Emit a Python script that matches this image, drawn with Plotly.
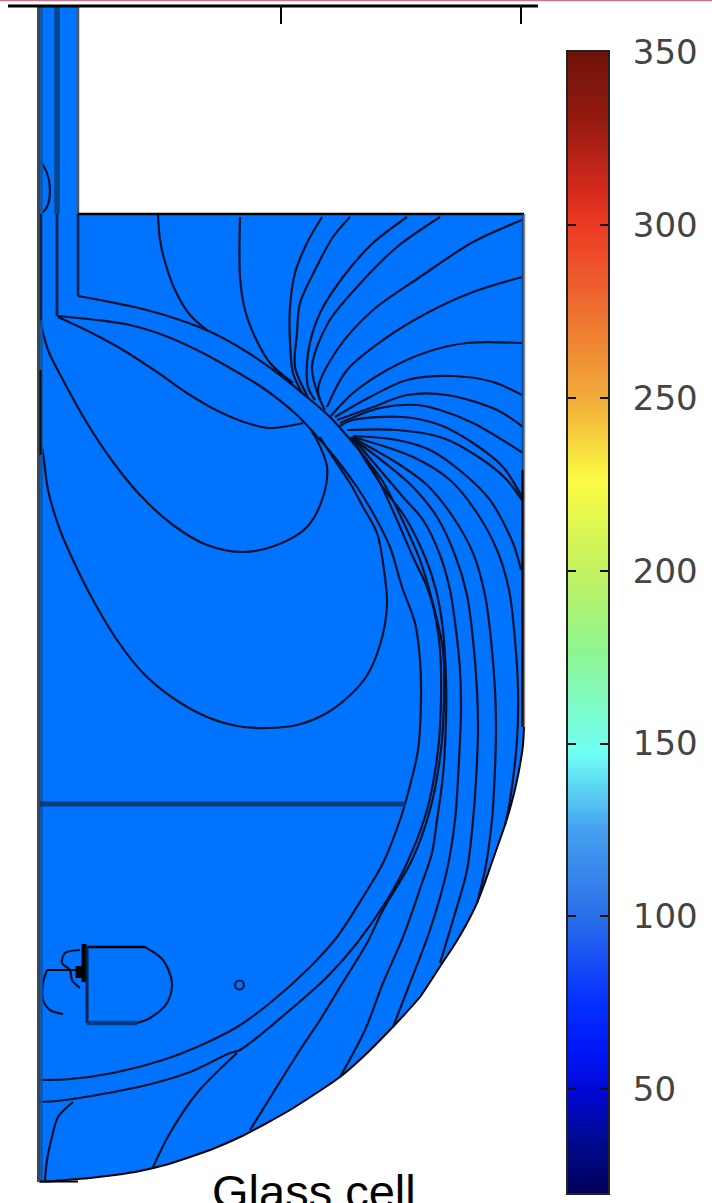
import plotly.graph_objects as go

# colour bar
BAR_TICKS = [50, 100, 150, 200, 250, 300, 350]
BAR_VALUES = list(range(20, 351))
BAR_STOPS = [
    (20, "#00005a"), (35, "#000a90"), (50, "#0008d8"), (60, "#0015f5"), (75, "#0530ff"), (100, "#2a6fe8"),
    (125, "#45a0f0"), (147, "#70fff5"), (177, "#8ff590"), (200, "#c3f25f"), (226, "#fbfb44"), (250, "#f2ab3a"),
    (275, "#ee7030"), (292, "#ec4a28"), (300, "#ec3a22"), (310, "#d42a1c"), (330, "#961a10"), (350, "#6e1208"),
]

# domain outline
DOMAIN = [(39, 7), (78, 7), (78, 214), (524, 214), (524, 727), (523, 745), (520, 765), (516, 785), (511, 805),
          (505, 825), (498, 845), (491, 865), (484, 885), (477, 903), (466, 925), (453, 947), (441, 965), (430, 982),
          (420, 997), (404, 1015), (387, 1033), (364, 1056), (340, 1077), (315, 1094), (290, 1110), (265, 1124),
          (240, 1137), (215, 1148), (190, 1157), (165, 1165), (140, 1171), (115, 1175), (90, 1178), (65, 1180),
          (50, 1181.5), (39, 1181.5)]

# contours
GLASS_OUTER = [(78, 296), (100, 300), (143, 309), (180, 320), (213, 333), (247, 352), (280, 375), (307, 397),
               (330, 417), (353, 443), (367, 460), (380, 483), (397, 520), (413, 557), (427, 587), (434, 610),
               (440, 650), (441, 700), (438, 750), (427, 810), (407, 863), (387, 900), (357, 943), (327, 977),
               (290, 1010), (240, 1050), (230, 1053), (190, 1072), (147, 1085), (97, 1095), (57, 1101), (40, 1102)]
GLASS_INNER = [(57, 316), (97, 320), (130, 325), (163, 335), (197, 350), (230, 368), (263, 388), (297, 415),
               (313, 432), (337, 460), (357, 487), (373, 513), (390, 547), (402, 587), (415, 623), (420, 660),
               (421, 700), (418, 750), (408, 793), (400, 820), (383, 863), (363, 897), (337, 937), (310, 967),
               (270, 1003), (237, 1027), (197, 1047), (163, 1060), (113, 1073), (70, 1079), (40, 1080)]
LOBE_SMALL = [(58, 317), (90, 332), (123, 350), (157, 372), (190, 395), (220, 412), (247, 423), (270, 428), (303, 423)]
LOBE_MID = [(40, 320), (48, 350), (63, 380), (87, 423), (113, 462), (140, 495), (173, 525), (207, 545), (243, 552),
            (277, 545), (307, 527), (323, 497), (327, 467), (317, 440), (312, 432)]
LOBE_BIG = [(40, 440), (43, 453), (48, 490), (60, 530), (73, 560), (93, 600), (117, 640), (143, 673), (173, 698),
            (207, 717), (237, 726), (267, 728), (297, 725), (325, 714), (347, 698), (366, 677), (380, 645), (387, 605),
            (384, 570), (377, 533), (363, 507), (350, 483), (330, 453), (320, 437)]
LEFT_A = [(158, 215), (160, 240), (165, 262), (175, 290), (190, 315), (207, 330)]
LEFT_B = [(240, 217), (240, 277), (245, 310), (255, 337), (270, 363), (293, 383)]
TUBE_BULGE = [(41, 162), (47, 173), (50, 190), (47, 207), (42, 213)]
T1 = [(322, 217), (307, 243), (295, 273), (290, 307), (290, 343), (293, 373), (302, 393)]
T2 = [(350, 217), (333, 237), (315, 270), (300, 303), (297, 333), (295, 367), (308, 397)]
T3 = [(407, 217), (373, 243), (343, 277), (320, 313), (308, 353), (308, 387), (315, 400)]
T4 = [(440, 217), (397, 247), (357, 287), (328, 323), (312, 367), (320, 400)]
T5 = [(522, 220), (473, 242), (420, 277), (373, 310), (337, 350), (318, 390), (325, 410)]
T6 = [(522, 277), (473, 292), (427, 313), (383, 340), (347, 370), (327, 407)]
T7 = [(522, 343), (467, 343), (427, 352), (387, 370), (353, 393), (330, 417)]
T8 = [(522, 395), (493, 382), (453, 376), (407, 380), (370, 397), (335, 417)]
T9 = [(523, 427), (497, 410), (447, 395), (407, 395), (373, 407), (337, 420)]
T10 = [(523, 453), (473, 423), (440, 410), (417, 405), (380, 408), (340, 423)]
T11 = [(522, 497), (503, 467), (473, 443), (440, 425), (403, 417), (353, 420), (340, 426)]
T12 = [(522, 500), (505, 478), (480, 458), (443, 438), (397, 430), (347, 430)]
D_LINE = [(350, 437), (363, 455), (382, 480), (400, 515), (420, 560), (432, 600), (443, 650), (444, 700),
          (441, 750), (430, 810), (412, 860), (383, 910), (367, 943), (340, 987), (320, 1020), (300, 1050),
          (273, 1093), (250, 1130)]
E_LINE = [(352, 438), (367, 463), (387, 493), (405, 517), (425, 557), (436, 590), (443, 630), (446, 680), (446, 720),
          (443, 775), (437, 820), (432, 853), (422, 883), (403, 937), (383, 983), (365, 1030), (340, 1077)]
F_LINE = [(352, 437), (380, 470), (403, 497), (423, 520), (440, 555), (450, 590), (456, 630), (460, 670), (461, 710),
          (459, 760), (455, 820), (447, 870), (430, 930), (410, 983), (393, 1027)]
G_LINE = [(352, 438), (390, 467), (413, 487), (437, 517), (455, 555), (467, 595), (473, 640), (477, 690), (478, 730),
          (476, 780), (473, 820), (467, 870), (453, 920), (440, 963)]
H_LINE = [(353, 438), (397, 463), (427, 485), (453, 517), (473, 553), (485, 595), (491, 640), (495, 690), (496, 730),
          (494, 790), (492, 820), (485, 870), (477, 903)]
I_LINE = [(353, 437), (413, 457), (450, 480), (477, 513), (497, 550), (509, 590), (515, 640),
          (518, 690), (517, 740), (510, 800), (505, 825)]
J_LINE = [(353, 436), (397, 440), (430, 450), (463, 473), (490, 500), (513, 543), (521, 570)]
P_LINE = [(237, 1053), (197, 1093), (170, 1133), (153, 1167)]
CORNER = [(73, 1102), (58, 1117), (52, 1137), (47, 1160), (45, 1180)]
HEATER_ARC_A = [(80, 950), (65, 953), (62, 963), (70, 970), (72, 980), (80, 988)]
HEATER_ARC_B = [(47, 970), (43, 983), (43, 1000), (50, 1010), (63, 1014)]
HEATER_ROUND = [(145, 947), (163, 960), (172, 983), (167, 1003), (150, 1018), (137, 1023)]
SMALL_RING = [(239.5, 985)]

CURVES = [GLASS_OUTER, GLASS_INNER, LOBE_SMALL, LOBE_MID, LOBE_BIG, LEFT_A, LEFT_B, TUBE_BULGE,
          T1, T2, T3, T4, T5, T6, T7, T8, T9, T10, T11, T12,
          D_LINE, E_LINE, F_LINE, G_LINE, H_LINE, I_LINE, J_LINE, P_LINE, CORNER, HEATER_ARC_A, HEATER_ARC_B,
          HEATER_ROUND]

# straight boundary and frame segments: (points, colour, width)
SEGMENTS = [
    ([(0, 0.5), (712, 0.5)], "#c27a86", 1.5),
    ([(57, 7), (57, 214)], "#00468f", 5.5),
    ([(57, 214), (57, 316)], "#00224e", 2.8),
    ([(41.5, 7), (41.5, 1182)], "#0a55a8", 2.5),
    ([(78, 7), (78, 214)], "#555555", 2.5),
    ([(78, 214), (78, 296)], "#00224e", 2.5),
    ([(78, 214), (524, 214)], "#000000", 2.5),
    ([(38.5, 7), (38.5, 1182)], "#444444", 3),
    ([(41, 214), (41, 320)], "#00224e", 1.8),
    ([(40.5, 370), (40.5, 455)], "#000c20", 2),
    ([(524.5, 214), (524.5, 727)], "#8a8a8a", 1.5),
    ([(522.5, 214), (522.5, 470)], "#0a4a90", 1.5),
    ([(522.5, 470), (522.5, 727)], "#000000", 2.2),
    ([(40, 804), (405, 804)], "#013c82", 5),
    ([(40, 1181.5), (78, 1181.5)], "#000000", 2.2),
    ([(84, 944), (84, 982)], "#000000", 5),
    ([(47, 970), (80, 970)], "#000000", 2),
    ([(79, 966), (79, 978)], "#000000", 7),
    ([(87, 947), (145, 947)], "#000000", 2.5),
    ([(87, 947), (87, 1023)], "#00224e", 3),
    ([(87, 1023), (137, 1023)], "#013c82", 4.5),
    ([(8, 6), (538, 6)], "#000000", 3),
    ([(281, 6), (281, 24)], "#000000", 2),
    ([(521, 6), (521, 24)], "#000000", 2),
]

TITLE = "Glass cell"

fig = go.Figure()
fig.add_trace(go.Scatter(x=[p[0] for p in DOMAIN], y=[p[1] for p in DOMAIN], mode="lines", fill="toself",
                         fillcolor="#0073ff", line=dict(width=0), hoverinfo="skip"))
fig.add_trace(go.Scatter(x=[p[0] for p in DOMAIN[4:]], y=[p[1] for p in DOMAIN[4:]], mode="lines",
                         line=dict(color="#000000", width=2, shape="spline", smoothing=0.6), hoverinfo="skip"))
for c in CURVES:
    fig.add_trace(go.Scatter(x=[p[0] for p in c], y=[p[1] for p in c], mode="lines",
                             line=dict(color="#00112c", width=2.2, shape="spline", smoothing=0.9), hoverinfo="skip"))
for pts, col, w in SEGMENTS:
    fig.add_trace(go.Scatter(x=[p[0] for p in pts], y=[p[1] for p in pts], mode="lines",
                             line=dict(color=col, width=w), hoverinfo="skip"))
fig.add_trace(go.Scatter(x=[p[0] for p in SMALL_RING], y=[p[1] for p in SMALL_RING], mode="markers",
                         marker=dict(symbol="circle-open", size=9, color="#00224e", line=dict(width=2.2)),
                         hoverinfo="skip"))

lo, hi = BAR_VALUES[0], BAR_VALUES[-1]
fig.add_trace(go.Heatmap(x=[0, 1], y=BAR_VALUES, z=[[v, v] for v in BAR_VALUES], xaxis="x2", yaxis="y2",
                         zmin=lo, zmax=hi, showscale=False, hoverinfo="skip",
                         colorscale=[[(v - lo) / (hi - lo), c] for v, c in BAR_STOPS]))

W, H = 712, 1203
fig.update_layout(
    template="none",
    width=W, height=H, margin=dict(l=0, r=0, t=0, b=0, pad=0), showlegend=False,
    paper_bgcolor="white", plot_bgcolor="rgba(0,0,0,0)",
    xaxis=dict(domain=[0, 1], range=[0, W], visible=False, fixedrange=True, automargin=False),
    yaxis=dict(domain=[0, 1], range=[H, 0], visible=False, fixedrange=True, automargin=False),
    xaxis2=dict(domain=[568 / W, 608 / W], range=[-0.5, 1.5], anchor="y2", showticklabels=False, ticks="",
                showline=True, linecolor="#222222", linewidth=2, mirror=True, showgrid=False, zeroline=False,
                automargin=False),
    yaxis2=dict(domain=[(H - 1193) / H, (H - 52) / H], range=[lo, hi], anchor="x2", side="right",
                tickvals=BAR_TICKS, ticks="inside", ticklen=8, tickwidth=2, tickcolor="#111111",
                showline=True, linecolor="#222222", linewidth=2, mirror="ticks", showgrid=False, zeroline=False,
                automargin=False, ticklabelstandoff=16,
                tickfont=dict(family="DejaVu Sans", size=34, color="#444444")),
    annotations=[dict(text=TITLE, x=314, y=1163, xref="x", yref="y", showarrow=False, xanchor="center",
                      yanchor="top", font=dict(family="Liberation Sans", size=47, color="#000000"))],
)
fig.write_html(
    "out.html",
    config={"displayModeBar": False},
    post_script="var g=document.getElementById('{plot_id}');g.style.position='absolute';g.style.top='0';g.style.left='0';"
                "document.body.style.margin='0';document.body.style.overflow='hidden';",
)
